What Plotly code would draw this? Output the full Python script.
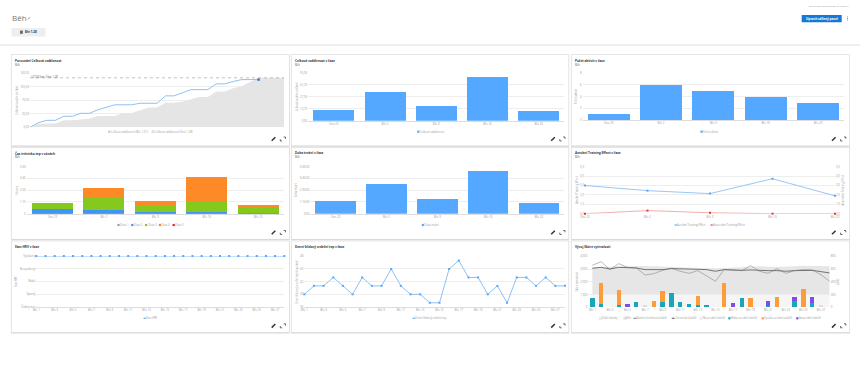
import plotly.graph_objects as go

# ---------- data ----------
month_days = list(range(1, 32))
mar_distance = [0, 12, 18, 18, 28.5, 28.5, 36, 36, 45, 51, 58, 58, 58, 62, 62, 62, 81, 81, 89, 97, 97, 97, 112, 112, 118, 123, 123, 123]
feb_distance = [0, 9, 10, 10, 18, 18, 20, 22, 29, 29, 29, 37, 37, 44, 51, 51, 63, 63, 66, 72, 78, 78, 92, 92, 101, 106, 117, 127.63, 127.63, 127.63, 127.63]
feb_total = 127.63

weeks = ["Úno 23", "Bře 2", "Bře 9", "Bře 16", "Bře 23"]
week_distance = [12.4, 32.6, 17.4, 49.9, 11.2]
week_activities = [1, 6, 5, 4, 3]
zone1 = [0.01, 0.01, 0.01, 0.01, 0.01]
zone2 = [0.5, 0.39, 0.21, 0.14, 0.07]
zone3 = [0.63, 1.42, 0.75, 1.21, 0.5]
zone4 = [0.0, 0.89, 0.35, 2.59, 0.35]
zone5 = [0, 0, 0, 0, 0]
week_duration = [1.31, 3.12, 1.56, 4.54, 1.13]
aerobic_te = [3.0, 2.45, 2.14, 3.72, 1.9]
anaerobic_te = [0.0, 0.33, 0.1, 0.0, 0.0]

days = [f"Bře {d}" for d in range(1, 29)]
day_ticks = [f"Bře {d}" for d in range(1, 28, 2)]
hrv_levels = ["Žádný stav", "Špatný", "Nízká", "Nevyvážený", "Vyvážený"]
hrv_status = ["Vyvážený"] * 28
resting_hr = [39, 41, 41, 43, 41, 39, 43, 41, 41, 45, 41, 39, 39, 37, 37, 45, 47, 43, 43, 39, 41, 37, 43, 43, 41, 43, 41, 41]

other_band = [1000, 1000, 1000, 1000, 1000, 1000, 1000, 1000, 1000, 1000, 1000, 1000, 1000, 1000, 1000, 1000, 1000, 1000, 1000, 1000, 1000, 1000, 1000, 1000, 1000, 1000, 1000, 1000]
run_band_top = [3140, 3170, 3190, 3210, 3220, 3240, 3230, 3220, 3200, 3170, 3140, 3110, 3090, 3060, 3060, 3090, 3120, 3160, 3220, 3220, 3190, 3170, 3180, 3210, 3260, 3240, 3230, 3220]
acute_load = [659, 716, 591, 685, 627, 617, 507, 528, 580, 612, 565, 533, 575, 497, 408, 591, 580, 575, 654, 565, 533, 607, 533, 575, 591, 586, 512, 408]
chronic_load = [612, 627, 601, 627, 622, 617, 591, 591, 591, 607, 607, 596, 596, 591, 565, 591, 580, 580, 586, 575, 575, 575, 565, 575, 580, 580, 559, 539]
low_aerobic = [141, 52, 0, 37, 10, 84, 0, 0, 89, 230, 78, 58, 31, 26, 0, 0, 0, 152, 0, 0, 16, 0, 0, 94, 0, 63, 0, 0]
high_aerobic = [0, 330, 0, 240, 0, 0, 0, 99, 162, 0, 0, 0, 141, 0, 0, 387, 0, 0, 146, 0, 0, 157, 0, 0, 293, 0, 0, 0]
anaerobic = [0, 0, 0, 0, 42, 0, 0, 0, 0, 0, 0, 0, 0, 0, 0, 0, 68, 0, 0, 0, 83, 0, 0, 63, 0, 94, 0, 0]
unproductive = [0, 0, 0, 0, 0, 0, 16, 0, 0, 0, 0, 0, 0, 0, 0, 0, 0, 0, 0, 0, 0, 0, 0, 0, 0, 0, 16, 0]

# ---------- style ----------
W, H = 860, 377
FONT = "Open Sans"
TICK = 2.8
BLUE = "#55a8ff"
LINE = "#8fc0f2"
GRID = "#eeeeee"
TXT = "#989898"
TEAL, ORANGE, PURPLE = "#18a6b8", "#fd9c3a", "#7c4dea"

fig = go.Figure()
shapes, annos = [], []

def fx(x): return x / W
def fy(y): return 1 - y / H
def xr(n): return "x" if n == 1 else f"x{n}"
def yr(n): return "y" if n == 1 else f"y{n}"

def text(x, y, s, size=TICK, color=TXT, anchor="left", bold=False, angle=0):
    annos.append(dict(xref="paper", yref="paper", x=fx(x), y=fy(y), text=f"<b>{s}</b>" if bold else s,
                      showarrow=False, xanchor=anchor, yanchor="middle", textangle=angle,
                      font=dict(family=FONT, size=size, color=color), borderpad=0, borderwidth=0))

def rect(x0, y0, x1, y1, fill, line=None, r=None):
    shapes.append(dict(type="rect", xref="paper", yref="paper", x0=fx(x0), x1=fx(x1), y0=fy(y0), y1=fy(y1),
                       fillcolor=fill, line=dict(color=line or fill, width=0.4 if line else 0), layer="below"))

def seg(x0, y0, x1, y1, color, width, dash="solid", layer="above"):
    shapes.append(dict(type="line", xref="paper", yref="paper", x0=fx(x0), x1=fx(x1), y0=fy(y0), y1=fy(y1),
                       line=dict(color=color, width=width, dash=dash), layer=layer))

def axis_base(**kw):
    d = dict(showgrid=False, zeroline=False, showline=False, ticks="", tickfont=dict(family=FONT, size=TICK, color=TXT),
             fixedrange=True, automargin=False)
    d.update(kw)
    return d

layout_axes = {}

def panel(n, x0, x1, y0, y1, xkw, ykw, title=None):
    ky = dict(showgrid=True, gridcolor=GRID, gridwidth=0.8)
    ky.update(ykw)
    if title:
        ky["title"] = dict(text=title, font=dict(family=FONT, size=TICK - 0.2, color=TXT), standoff=2)
    name = "" if n == 1 else str(n)
    layout_axes[f"xaxis{name}"] = axis_base(domain=[fx(x0), fx(x1)], anchor=yr(n), **xkw)
    layout_axes[f"yaxis{name}"] = axis_base(domain=[fy(y1), fy(y0)], anchor=xr(n), **ky)

def legend(cx, y, items):
    cw, sw, gap = 1.3, 3.0, 3.0
    total = sum(sw + len(l) * cw for l, _, _ in items) + gap * (len(items) - 1)
    x = cx - total / 2
    for label, color, kind in items:
        if kind == "box":
            rect(x + 0.4, y - 1.1, x + 2.6, y + 1.1, color, "#cccccc" if color in ("#ffffff", "#f5f5f5", "#e6e6e6") else None)
        else:
            seg(x, y, x + 3, y, color, 0.7)
            rect(x + 1, y - 0.6, x + 2, y + 0.6, color)
        text(x + sw, y, label, size=TICK - 0.1)
        x += sw + len(label) * cw + gap

def card(x0, y0, x1, y1, title, sub=True):
    rect(x0 - 0.8, y0 - 0.8, x1 + 0.8, y1 + 1.4, "#e6e6e6")
    rect(x0 - 0.3, y0 - 0.3, x1 + 0.4, y1 + 0.7, "#d4d4d4")
    rect(x0, y0, x1, y1, "#ffffff")
    ty = y0 + (5.7 if sub else 6)
    text(x0 + 3.5, ty, title, size=3.1, color="#333333", bold=True)
    if sub:
        text(x0 + 3.5, ty + 4, "Běh", size=2.7, color="#555555")
    # edit and expand icons
    ix, iy = x1 - 15.5, y1 - 6.5
    seg(ix - 1.8, iy + 1.8, ix + 1.8, iy - 1.8, "#333333", 1.5)
    seg(ix + 6.8, iy + 2, ix + 8.6, iy + 2, "#444444", 0.8)
    seg(ix + 6.8, iy + 2, ix + 6.8, iy + 0.2, "#444444", 0.8)
    seg(ix + 10.2, iy - 2, ix + 12, iy - 2, "#444444", 0.8)
    seg(ix + 12, iy - 2, ix + 12, iy - 0.2, "#444444", 0.8)

# ---------- page header ----------
text(11.5, 18, "Běh", size=8, color="#777777")
seg(28, 19.4, 30, 17.4, "#666666", 0.8)
rect(11.5, 28, 45.5, 36.5, "#eeeeee")
rect(20, 30.6, 22.8, 33.8, "#666666")
text(24.5, 32.3, "Bře 1-28", size=2.9, color="#333333", bold=True)
text(849, 5.6, "Synchronizováno dnes ve 10:00:41", size=2.5, color="#999999", anchor="right")
rect(801.7, 15, 841.7, 22.3, "#1479d6")
text(821.7, 18.7, "Upravit sdílený panel", size=3.0, color="#ffffff", anchor="center", bold=True)
for dy in (-1.6, 0, 1.6):
    rect(847, 18.5 + dy - 0.4, 848, 18.5 + dy + 0.4, "#888888")
rect(0, 44.2, W, 45.8, "#e9e9e9")

# ---------- cards ----------
cols = [(11.7, 289), (291.7, 568.5), (571.7, 849.3)]
rows = [(55, 145.5), (147.7, 239), (241.3, 332.3)]
titles = [["Porovnání Celková vzdálenost", "Celková vzdálenost v čase", "Počet aktivit v čase"],
          ["Čas tréninků tep v zónách", "Doba trvání v čase", "Aerobní Training Effect v čase"],
          ["Stav HRV v čase", "Denní klidový srdeční tep v čase", "Vývoj Skóre vytrvalosti"]]
for r, (y0, y1) in enumerate(rows):
    for c, (x0, x1) in enumerate(cols):
        card(x0, y0, x1, y1, titles[r][c], sub=r < 2)

# ---------- chart 1 ----------
panel(1, 30, 284, 73, 127.3, dict(range=[1, 31], showticklabels=False),
      dict(range=[0, 140], tickvals=[0, 35, 70, 105, 140], ticktext=["0,00", "35,00", "70,00", "105,00", "140,00"]),
      "Celková vzdálenost (km)")
fig.add_trace(go.Scatter(x=month_days, y=feb_distance, xaxis="x", yaxis="y", mode="lines", fill="tozeroy",
                         fillcolor="#e5e5e5", line=dict(width=0, color="#e5e5e5"), name="Celková vzdálenost (Úno 1-28)"))
fig.add_trace(go.Scatter(x=month_days[:28], y=mar_distance, xaxis="x", yaxis="y", mode="lines",
                         line=dict(color=LINE, width=1), name="Celková vzdálenost (Bře 1-31)"))
fig.add_trace(go.Scatter(x=month_days[27:28], y=mar_distance[27:28], xaxis="x", yaxis="y", mode="markers",
                         marker=dict(color="#2f78cf", size=2.4, symbol="square"), cliponaxis=False, showlegend=False))
shapes.append(dict(type="line", xref="x domain", yref="y", x0=0, x1=1, y0=feb_total, y1=feb_total,
                   line=dict(color="#888888", width=0.5, dash="dot")))
text(31, 76, "127,63 km / Úno 1-28", size=2.7, color="#555555")
legend(150, 131.7, [("Celková vzdálenost (Bře 1-31)", "#a9cdf0", "box"), ("Celková vzdálenost (Úno 1-28)", "#e6e6e6", "box")])

# ---------- chart 2 ----------
def week_bar(n, y, color=BLUE):
    fig.add_trace(go.Bar(x=weeks, y=y, xaxis=xr(n), yaxis=yr(n), marker=dict(color=color, line=dict(width=0)), width=0.8))

cat_x = dict(categoryorder="array", categoryarray=weeks, range=[-0.5, 4.5], showline=True, linecolor="#dddddd", linewidth=0.6)
panel(2, 308.2, 564.3, 73, 120.7, cat_x,
      dict(range=[0, 55], tickvals=[0, 13.75, 27.5, 41.25, 55], ticktext=["0,00", "13,75", "27,50", "41,25", "55,00"]),
      "Celková vzdálenost (km)")
week_bar(2, week_distance)
legend(430, 131.7, [("Celková vzdálenost", BLUE, "box")])

# ---------- chart 3 ----------
panel(3, 582.5, 844.2, 73, 120.3, cat_x, dict(range=[0, 8], tickvals=[0, 2, 4, 6, 8]), "Počet aktivit")
week_bar(3, week_activities)
legend(710, 131.7, [("Počet aktivit", BLUE, "box")])

# ---------- chart 4 ----------
zone_colors = ["#9e9e9e", "#3f94f5", "#84c91e", "#fd8a26", "#e8202a"]
panel(4, 26.6, 284, 166.7, 213.7, cat_x,
      dict(range=[0, 5], tickvals=[0, 1.25, 2.5, 3.75, 5], ticktext=["0", "1:15", "2:30", "3:45", "5:00"]), "Hodiny")
for i, z in enumerate([zone1, zone2, zone3, zone4, zone5]):
    week_bar(4, z, zone_colors[i])
legend(150, 225, [(f"Zóna {i + 1}", zone_colors[i], "box") for i in range(5)])

# ---------- chart 5 ----------
panel(5, 310.3, 564.4, 166.7, 213.7, cat_x,
      dict(range=[0, 5], tickvals=[0, 1.25, 2.5, 3.75, 5], ticktext=["0:00", "1:15:00", "2:30:00", "3:45:00", "5:00:00"]), "Doba trvání")
week_bar(5, week_duration)
legend(430, 225, [("Doba trvání", BLUE, "box")])

# ---------- chart 6 ----------
te_ticks = dict(range=[0, 5], tickvals=[0, 1, 2, 3, 4, 5], ticktext=["0,0", "1,0", "2,0", "3,0", "4,0", "5,0"])
panel(6, 585, 835, 166.7, 213.7, dict(categoryorder="array", categoryarray=weeks, range=[0, 4]), te_ticks, "Aerobní Training Effect")
layout_axes["yaxis10"] = axis_base(overlaying="y6", side="right", anchor="x6",
                                   title=dict(text="Anaerobní Training Effect", font=dict(family=FONT, size=TICK - 0.2, color=TXT), standoff=2),
                                   **te_ticks)
fig.add_trace(go.Scatter(x=weeks, y=aerobic_te, xaxis="x6", yaxis="y6", mode="lines+markers", cliponaxis=False,
                         line=dict(color=LINE, width=0.9), marker=dict(color=BLUE, size=2, symbol="square")))
fig.add_trace(go.Scatter(x=weeks, y=anaerobic_te, xaxis="x6", yaxis="y10", mode="lines+markers", cliponaxis=False,
                         line=dict(color="#f2a5a5", width=0.9), marker=dict(color="#e33", size=2, symbol="square")))
legend(710, 225, [("Aerobní Training Effect", BLUE, "line"), ("Anaerobní Training Effect", "#e84a4a", "line")])

# ---------- chart 7 ----------
day_x = dict(categoryorder="array", categoryarray=days, tickvals=day_ticks, range=[0, 27], showline=True, linecolor="#dddddd", linewidth=0.6)
panel(7, 36.3, 284.3, 256, 307, day_x,
      dict(type="category", categoryorder="array", categoryarray=hrv_levels, range=[0, 4], tickvals=hrv_levels), "Stav HRV")
fig.add_trace(go.Scatter(x=days, y=hrv_status, xaxis="x7", yaxis="y7", mode="lines+markers", cliponaxis=False,
                         line=dict(color=LINE, width=1), marker=dict(color=BLUE, size=2, symbol="square")))
legend(150, 318.3, [("Stav HRV", BLUE, "line")])

# ---------- chart 8 ----------
panel(8, 304.3, 565, 256.3, 307, day_x, dict(range=[36, 48], tickvals=[36, 39, 42, 45, 48]), "Denní klidový srdeční tep (tepů/min)")
fig.add_trace(go.Scatter(x=days, y=resting_hr, xaxis="x8", yaxis="y8", mode="lines+markers", cliponaxis=False,
                         line=dict(color=LINE, width=1), marker=dict(color=BLUE, size=2, symbol="square")))
legend(430, 318.3, [("Denní klidový srdeční tep", BLUE, "line")])

# ---------- chart 9 ----------
panel(9, 588.3, 829.7, 256.3, 307.3, dict(categoryorder="array", categoryarray=days, tickvals=day_ticks, range=[-0.46, 27]),
      dict(range=[0, 4000], tickvals=[0, 1000, 2000, 3000, 4000], ticktext=["0", "1,000", "2,000", "3,000", "4,000"]),
      "Skóre vytrvalosti")
layout_axes["yaxis11"] = axis_base(overlaying="y9", side="right", anchor="x9", range=[0, 800], tickvals=[0, 200, 400, 600, 800],
                                   title=dict(text="Zátěž", font=dict(family=FONT, size=TICK - 0.2, color=TXT), standoff=2))
fig.add_trace(go.Scatter(x=days, y=other_band, xaxis="x9", yaxis="y9", mode="lines", fill="tozeroy",
                         fillcolor="#f5f5f5", line=dict(width=0)))
fig.add_trace(go.Scatter(x=days, y=run_band_top, xaxis="x9", yaxis="y9", mode="lines", fill="tonexty",
                         fillcolor="#e6e6e6", line=dict(width=0)))
for y, col in [(low_aerobic, TEAL), (high_aerobic, ORANGE), (anaerobic, PURPLE), (unproductive, "#dddddd")]:
    fig.add_trace(go.Bar(x=days, y=y, xaxis="x9", yaxis="y11", marker=dict(color=col, line=dict(width=0)), width=0.5))
fig.add_trace(go.Scatter(x=days, y=acute_load, xaxis="x9", yaxis="y11", mode="lines", line=dict(color="#8a8a8a", width=0.6)))
fig.add_trace(go.Scatter(x=days, y=chronic_load, xaxis="x9", yaxis="y11", mode="lines", line=dict(color="#666666", width=0.9)))
legend(710, 318.3, [("Další aktivity", "#f5f5f5", "box"), ("Běh", "#e6e6e6", "box"),
                    ("Akutní tréninková (zátěž)", "#808080", "line"), ("Chronická (zátěž)", "#555555", "line"),
                    ("Neaerobní (zátěž)", "#ffffff", "box"), ("Nízká aerobní (zátěž)", TEAL, "box"),
                    ("Vysoká aerobní (zátěž)", ORANGE, "box"), ("Anaerobní (zátěž)", PURPLE, "box")])

fig.update_layout(width=W, height=H, autosize=False, margin=dict(l=0, r=0, t=0, b=0, pad=0, autoexpand=False), paper_bgcolor="#ffffff",
                  plot_bgcolor="rgba(0,0,0,0)", showlegend=False, barmode="stack", bargap=0.2,
                  shapes=shapes, annotations=annos, font=dict(family=FONT), **layout_axes)

fig.write_html("out.html", config=dict(displayModeBar=False),
               post_script="document.body.style.margin='0';document.body.style.overflow='hidden';")
